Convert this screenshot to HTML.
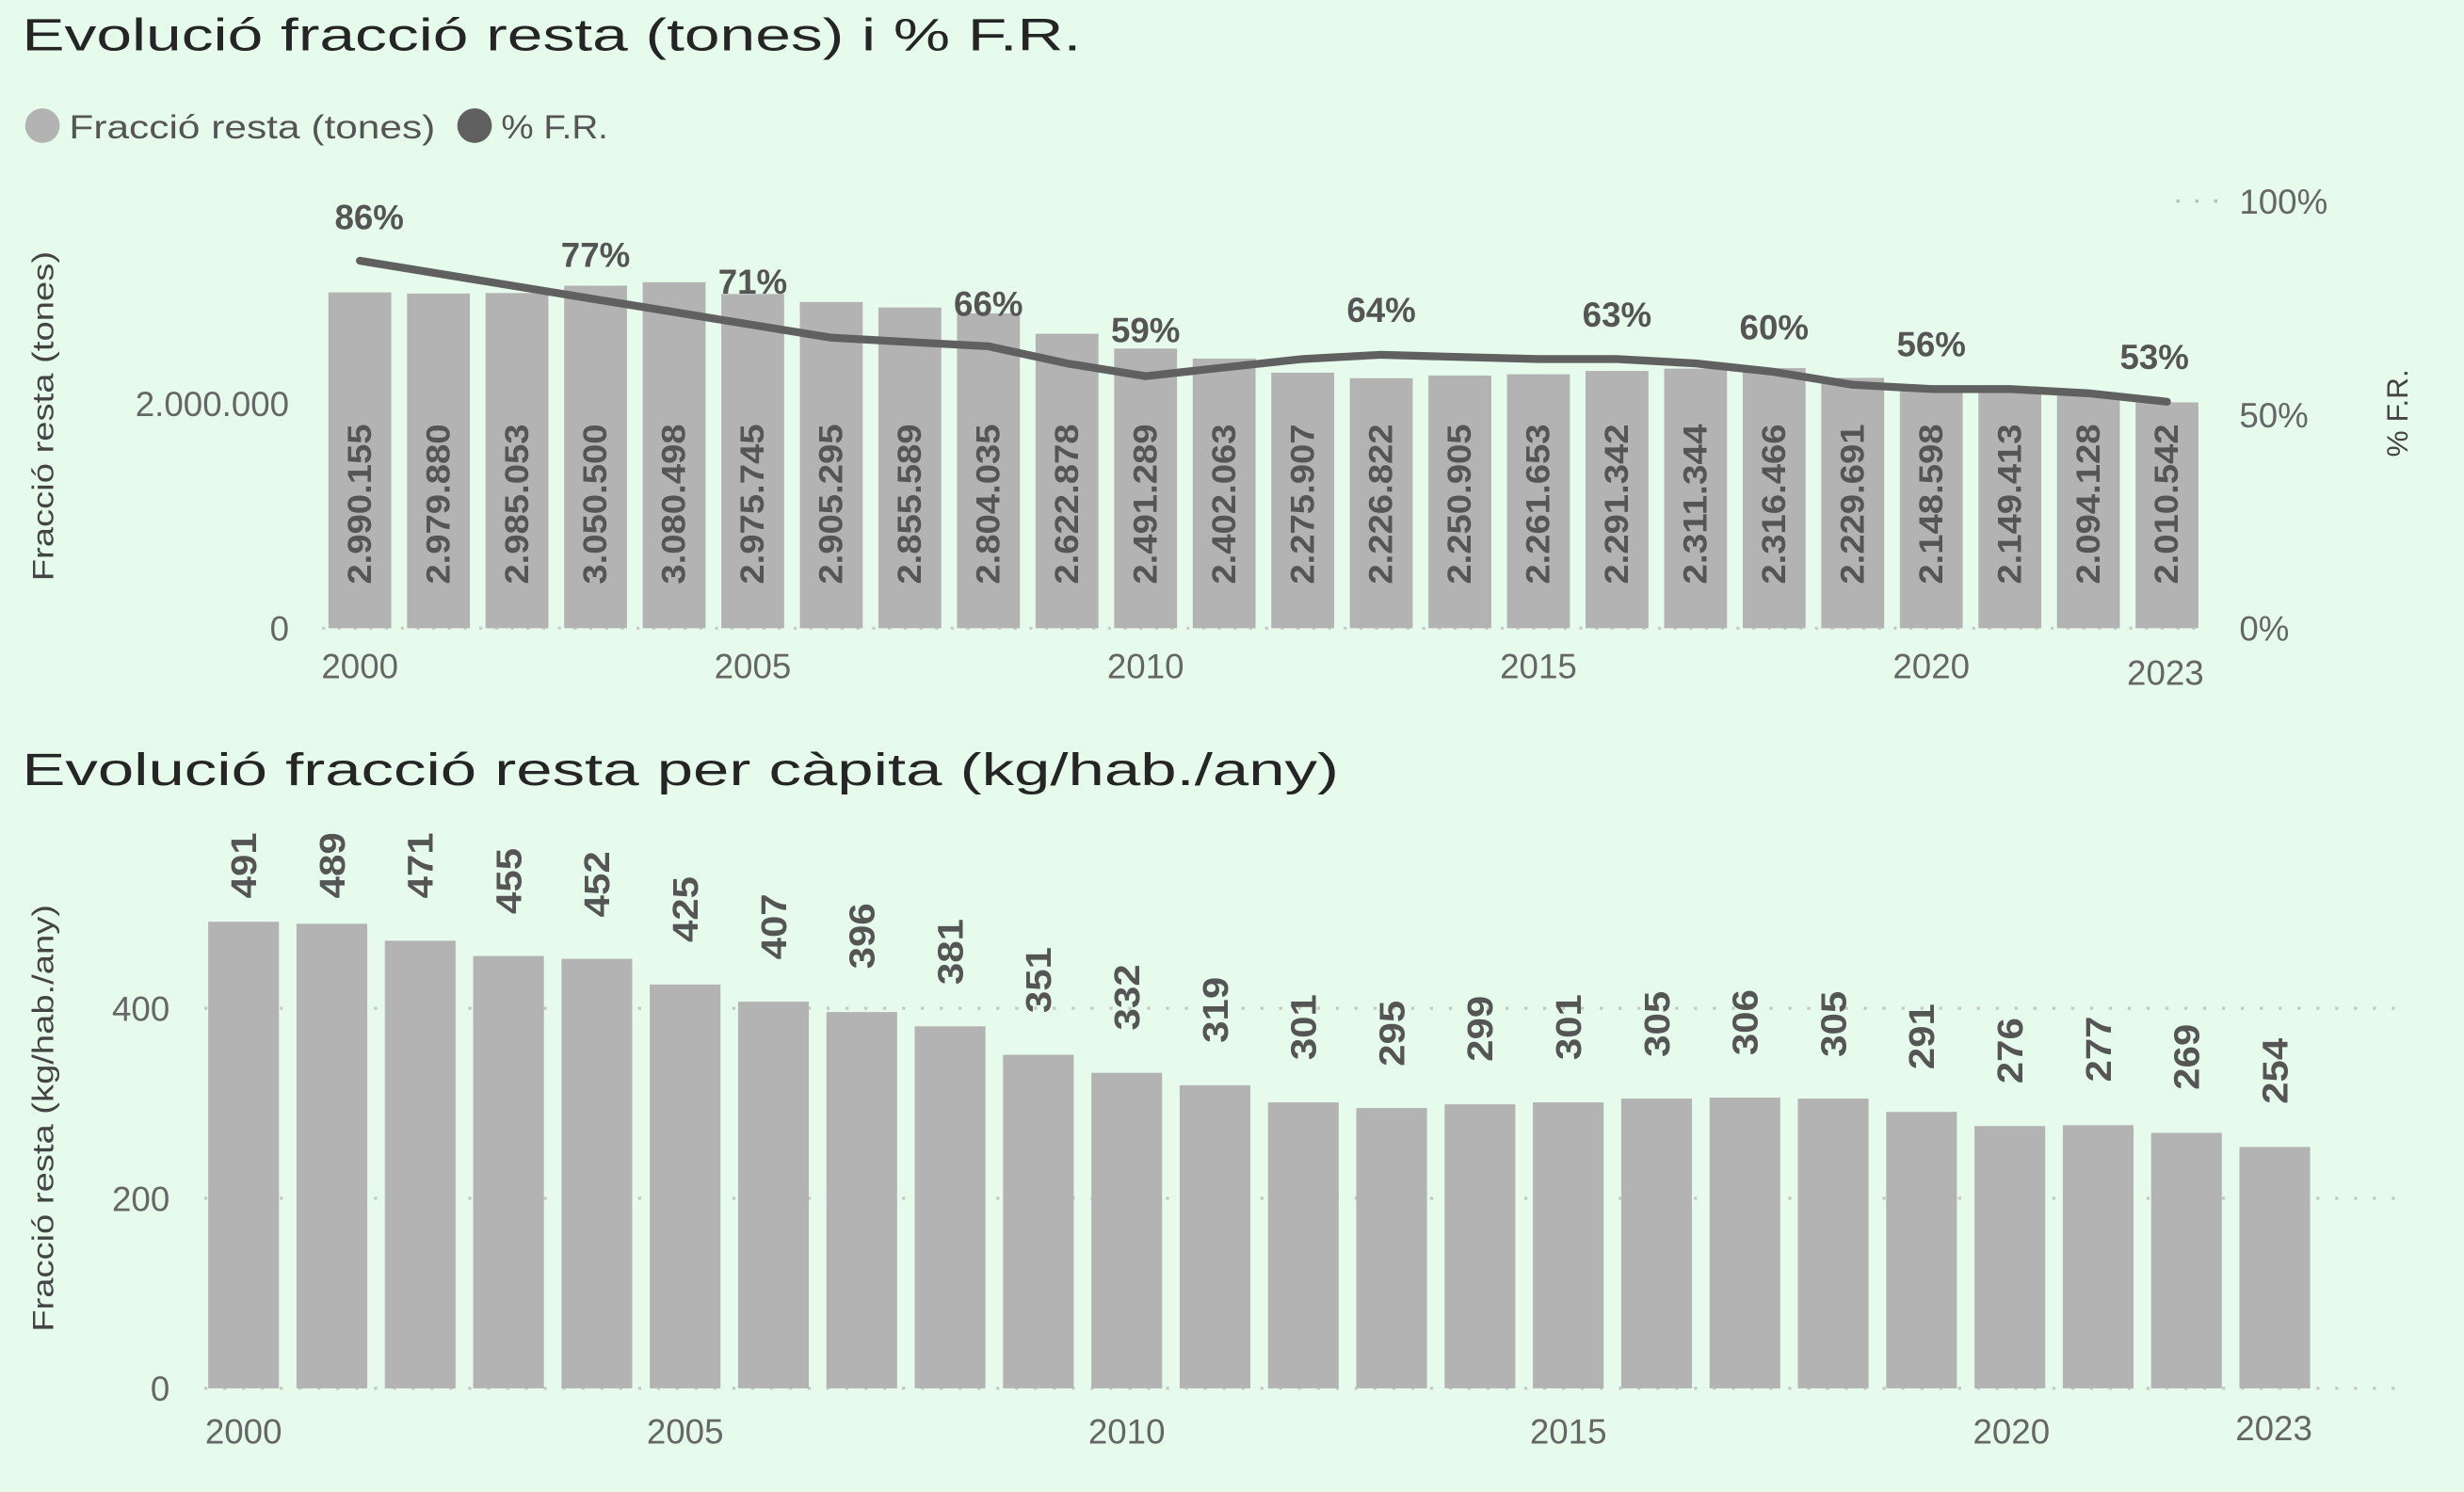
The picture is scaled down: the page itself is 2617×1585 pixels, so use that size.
<!DOCTYPE html>
<html><head><meta charset="utf-8"><style>
html,body{margin:0;padding:0;background:#e6fbec;}
svg{display:block;}
text{font-family:"Liberation Sans",sans-serif;}
.t{font-size:29px;fill:#252525;}
.ax{font-size:22px;fill:#666;}
.bl{font-size:21px;font-weight:bold;fill:#555;font-family:"Liberation Sans Narrow","Liberation Sans",sans-serif;}
.pl{font-size:22px;font-weight:bold;fill:#555;}
.bar{fill:#b3b3b3;}
</style></head><body>
<svg width="2617" height="1585" viewBox="0 0 1568 950" preserveAspectRatio="none" xmlns="http://www.w3.org/2000/svg">
<rect x="0" y="0" width="1568" height="950" fill="#e6fbec"/>
<!-- TOP CHART -->
<text class="t" x="14" y="32" textLength="674" lengthAdjust="spacingAndGlyphs">Evolució fracció resta (tones) i % F.R.</text>
<circle cx="27" cy="80" r="11" fill="#b3b3b3"/>
<text x="44" y="88" style="font-size:21px;fill:#555" textLength="233" lengthAdjust="spacingAndGlyphs">Fracció resta (tones)</text>
<circle cx="302" cy="80" r="11" fill="#606060"/>
<text x="319" y="88" style="font-size:21px;fill:#555" textLength="68" lengthAdjust="spacingAndGlyphs">% F.R.</text>
<line x1="1385" y1="128" x2="1412" y2="128" stroke="#bbb" stroke-width="2" stroke-dasharray="2,10"/>
<line x1="205" y1="400" x2="1400" y2="400" stroke="#ccc" stroke-width="2" stroke-dasharray="2,8"/>
<text class="ax" x="184" y="265" text-anchor="end">2.000.000</text>
<text class="ax" x="184" y="408" text-anchor="end">0</text>
<text class="ax" transform="translate(34,265) rotate(-90)" text-anchor="middle" style="font-size:19px;fill:#444" textLength="210" lengthAdjust="spacingAndGlyphs">Fracció resta (tones)</text>
<text class="ax" x="1425" y="136">100%</text>
<text class="ax" x="1425" y="272">50%</text>
<text class="ax" x="1425" y="408">0%</text>
<text class="ax" transform="translate(1532,263) rotate(-90)" text-anchor="middle" style="font-size:19px;fill:#444">% F.R.</text>
<g class="ax" text-anchor="middle">
<text x="229" y="432">2000</text><text x="479" y="432">2005</text><text x="729" y="432">2010</text><text x="979" y="432">2015</text><text x="1229" y="432">2020</text><text x="1378" y="436">2023</text>
</g>
<g class="bar">
<rect x="209" y="186.2" width="40" height="213.8"/>
<rect x="259" y="186.9" width="40" height="213.1"/>
<rect x="309" y="186.6" width="40" height="213.4"/>
<rect x="359" y="181.9" width="40" height="218.1"/>
<rect x="409" y="179.7" width="40" height="220.3"/>
<rect x="459" y="187.2" width="40" height="212.8"/>
<rect x="509" y="192.3" width="40" height="207.7"/>
<rect x="559" y="195.8" width="40" height="204.2"/>
<rect x="609" y="199.5" width="40" height="200.5"/>
<rect x="659" y="212.5" width="40" height="187.5"/>
<rect x="709" y="221.9" width="40" height="178.1"/>
<rect x="759" y="228.3" width="40" height="171.7"/>
<rect x="809" y="237.3" width="40" height="162.7"/>
<rect x="859" y="240.8" width="40" height="159.2"/>
<rect x="909" y="239.1" width="40" height="160.9"/>
<rect x="959" y="238.3" width="40" height="161.7"/>
<rect x="1009" y="236.2" width="40" height="163.8"/>
<rect x="1059" y="234.7" width="40" height="165.3"/>
<rect x="1109" y="234.4" width="40" height="165.6"/>
<rect x="1159" y="240.6" width="40" height="159.4"/>
<rect x="1209" y="246.4" width="40" height="153.6"/>
<rect x="1259" y="246.3" width="40" height="153.7"/>
<rect x="1309" y="250.3" width="40" height="149.7"/>
<rect x="1359" y="256.2" width="40" height="143.8"/>
</g>
<g class="bl">
<text transform="translate(236,372) rotate(-90)" textLength="102" lengthAdjust="spacingAndGlyphs">2.990.155</text>
<text transform="translate(286,372) rotate(-90)" textLength="102" lengthAdjust="spacingAndGlyphs">2.979.880</text>
<text transform="translate(336,372) rotate(-90)" textLength="102" lengthAdjust="spacingAndGlyphs">2.985.053</text>
<text transform="translate(386,372) rotate(-90)" textLength="102" lengthAdjust="spacingAndGlyphs">3.050.500</text>
<text transform="translate(436,372) rotate(-90)" textLength="102" lengthAdjust="spacingAndGlyphs">3.080.498</text>
<text transform="translate(486,372) rotate(-90)" textLength="102" lengthAdjust="spacingAndGlyphs">2.975.745</text>
<text transform="translate(536,372) rotate(-90)" textLength="102" lengthAdjust="spacingAndGlyphs">2.905.295</text>
<text transform="translate(586,372) rotate(-90)" textLength="102" lengthAdjust="spacingAndGlyphs">2.855.589</text>
<text transform="translate(636,372) rotate(-90)" textLength="102" lengthAdjust="spacingAndGlyphs">2.804.035</text>
<text transform="translate(686,372) rotate(-90)" textLength="102" lengthAdjust="spacingAndGlyphs">2.622.878</text>
<text transform="translate(736,372) rotate(-90)" textLength="102" lengthAdjust="spacingAndGlyphs">2.491.289</text>
<text transform="translate(786,372) rotate(-90)" textLength="102" lengthAdjust="spacingAndGlyphs">2.402.063</text>
<text transform="translate(836,372) rotate(-90)" textLength="102" lengthAdjust="spacingAndGlyphs">2.275.907</text>
<text transform="translate(886,372) rotate(-90)" textLength="102" lengthAdjust="spacingAndGlyphs">2.226.822</text>
<text transform="translate(936,372) rotate(-90)" textLength="102" lengthAdjust="spacingAndGlyphs">2.250.905</text>
<text transform="translate(986,372) rotate(-90)" textLength="102" lengthAdjust="spacingAndGlyphs">2.261.653</text>
<text transform="translate(1036,372) rotate(-90)" textLength="102" lengthAdjust="spacingAndGlyphs">2.291.342</text>
<text transform="translate(1086,372) rotate(-90)" textLength="102" lengthAdjust="spacingAndGlyphs">2.311.344</text>
<text transform="translate(1136,372) rotate(-90)" textLength="102" lengthAdjust="spacingAndGlyphs">2.316.466</text>
<text transform="translate(1186,372) rotate(-90)" textLength="102" lengthAdjust="spacingAndGlyphs">2.229.691</text>
<text transform="translate(1236,372) rotate(-90)" textLength="102" lengthAdjust="spacingAndGlyphs">2.148.598</text>
<text transform="translate(1286,372) rotate(-90)" textLength="102" lengthAdjust="spacingAndGlyphs">2.149.413</text>
<text transform="translate(1336,372) rotate(-90)" textLength="102" lengthAdjust="spacingAndGlyphs">2.094.128</text>
<text transform="translate(1386,372) rotate(-90)" textLength="102" lengthAdjust="spacingAndGlyphs">2.010.542</text>
</g>
<polyline fill="none" stroke="#606060" stroke-width="5" stroke-linejoin="round" stroke-linecap="round" points="229,166 279,174.2 329,182.4 379,190.6 429,198.7 479,206.9 529,215 579,217.8 629,220.5 679,231.4 729,239.5 779,234 829,228.6 879,225.9 929,227.3 979,228.6 1029,228.6 1079,231.4 1129,236.8 1179,245 1229,247.7 1279,247.7 1329,250.4 1379,255.8"/>
<g class="pl" text-anchor="middle">
<text x="235" y="146">86%</text>
<text x="379" y="170">77%</text>
<text x="479" y="187">71%</text>
<text x="629" y="201">66%</text>
<text x="729" y="218">59%</text>
<text x="879" y="205">64%</text>
<text x="1029" y="208">63%</text>
<text x="1129" y="216">60%</text>
<text x="1229" y="227">56%</text>
<text x="1371" y="235">53%</text>
</g>
<!-- BOTTOM CHART -->
<text class="t" x="14" y="500" textLength="838" lengthAdjust="spacingAndGlyphs">Evolució fracció resta per càpita (kg/hab./any)</text>
<g stroke="#c8c8c8" stroke-width="2" stroke-dasharray="2,10">
<line x1="130" y1="642" x2="1530" y2="642"/>
<line x1="130" y1="763" x2="1530" y2="763"/>
<line x1="130" y1="884" x2="1530" y2="884"/>
</g>
<text class="ax" x="108" y="650" text-anchor="end">400</text>
<text class="ax" x="108" y="771" text-anchor="end">200</text>
<text class="ax" x="108" y="892" text-anchor="end">0</text>
<text class="ax" transform="translate(34,712) rotate(-90)" text-anchor="middle" style="font-size:19px;fill:#444" textLength="272" lengthAdjust="spacingAndGlyphs">Fracció resta (kg/hab./any)</text>
<g class="ax" text-anchor="middle">
<text x="155" y="919">2000</text><text x="436" y="919">2005</text><text x="717" y="919">2010</text><text x="998" y="919">2015</text><text x="1280" y="919">2020</text><text x="1447" y="917">2023</text>
</g>
<g class="bar">
<rect x="132.5" y="586.9" width="45" height="297.1"/>
<rect x="188.7" y="588.2" width="45" height="295.8"/>
<rect x="244.9" y="599" width="45" height="285"/>
<rect x="301.1" y="608.7" width="45" height="275.3"/>
<rect x="357.3" y="610.5" width="45" height="273.5"/>
<rect x="413.5" y="626.9" width="45" height="257.1"/>
<rect x="469.7" y="637.8" width="45" height="246.2"/>
<rect x="525.9" y="644.4" width="45" height="239.6"/>
<rect x="582.1" y="653.5" width="45" height="230.5"/>
<rect x="638.3" y="671.6" width="45" height="212.4"/>
<rect x="694.5" y="683.1" width="45" height="200.9"/>
<rect x="750.7" y="691" width="45" height="193"/>
<rect x="806.9" y="701.9" width="45" height="182.1"/>
<rect x="863.1" y="705.5" width="45" height="178.5"/>
<rect x="919.3" y="703.1" width="45" height="180.9"/>
<rect x="975.5" y="701.9" width="45" height="182.1"/>
<rect x="1031.7" y="699.5" width="45" height="184.5"/>
<rect x="1087.9" y="698.9" width="45" height="185.1"/>
<rect x="1144.1" y="699.5" width="45" height="184.5"/>
<rect x="1200.3" y="708" width="45" height="176"/>
<rect x="1256.5" y="717" width="45" height="167"/>
<rect x="1312.7" y="716.4" width="45" height="167.6"/>
<rect x="1368.9" y="721.3" width="45" height="162.7"/>
<rect x="1425.1" y="730.3" width="45" height="153.7"/>
</g>
<g class="bl" style="font-size:23px">
<text transform="translate(163,572) rotate(-90)" textLength="42" lengthAdjust="spacingAndGlyphs">491</text>
<text transform="translate(219.2,572) rotate(-90)" textLength="42" lengthAdjust="spacingAndGlyphs">489</text>
<text transform="translate(275.4,572) rotate(-90)" textLength="42" lengthAdjust="spacingAndGlyphs">471</text>
<text transform="translate(331.6,582) rotate(-90)" textLength="42" lengthAdjust="spacingAndGlyphs">455</text>
<text transform="translate(387.8,584) rotate(-90)" textLength="42" lengthAdjust="spacingAndGlyphs">452</text>
<text transform="translate(444,600) rotate(-90)" textLength="42" lengthAdjust="spacingAndGlyphs">425</text>
<text transform="translate(500.2,611) rotate(-90)" textLength="42" lengthAdjust="spacingAndGlyphs">407</text>
<text transform="translate(556.4,617) rotate(-90)" textLength="42" lengthAdjust="spacingAndGlyphs">396</text>
<text transform="translate(612.6,627) rotate(-90)" textLength="42" lengthAdjust="spacingAndGlyphs">381</text>
<text transform="translate(668.8,645) rotate(-90)" textLength="42" lengthAdjust="spacingAndGlyphs">351</text>
<text transform="translate(725,656) rotate(-90)" textLength="42" lengthAdjust="spacingAndGlyphs">332</text>
<text transform="translate(781.2,664) rotate(-90)" textLength="42" lengthAdjust="spacingAndGlyphs">319</text>
<text transform="translate(837.4,675) rotate(-90)" textLength="42" lengthAdjust="spacingAndGlyphs">301</text>
<text transform="translate(893.6,679) rotate(-90)" textLength="42" lengthAdjust="spacingAndGlyphs">295</text>
<text transform="translate(949.8,676) rotate(-90)" textLength="42" lengthAdjust="spacingAndGlyphs">299</text>
<text transform="translate(1006,675) rotate(-90)" textLength="42" lengthAdjust="spacingAndGlyphs">301</text>
<text transform="translate(1062.2,673) rotate(-90)" textLength="42" lengthAdjust="spacingAndGlyphs">305</text>
<text transform="translate(1118.4,672) rotate(-90)" textLength="42" lengthAdjust="spacingAndGlyphs">306</text>
<text transform="translate(1174.6,673) rotate(-90)" textLength="42" lengthAdjust="spacingAndGlyphs">305</text>
<text transform="translate(1230.8,681) rotate(-90)" textLength="42" lengthAdjust="spacingAndGlyphs">291</text>
<text transform="translate(1287,690) rotate(-90)" textLength="42" lengthAdjust="spacingAndGlyphs">276</text>
<text transform="translate(1343.2,689) rotate(-90)" textLength="42" lengthAdjust="spacingAndGlyphs">277</text>
<text transform="translate(1399.4,694) rotate(-90)" textLength="42" lengthAdjust="spacingAndGlyphs">269</text>
<text transform="translate(1455.6,703) rotate(-90)" textLength="42" lengthAdjust="spacingAndGlyphs">254</text>
</g>
</svg>
</body></html>
